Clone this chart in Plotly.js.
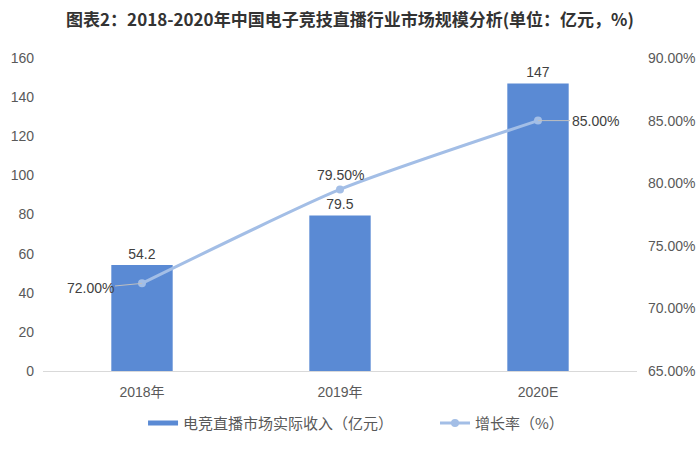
<!DOCTYPE html>
<html>
<head>
<meta charset="utf-8">
<script src="https://cdn.plot.ly/plotly-3.0.1.min.js"></script>
<style>html,body{margin:0;padding:0;background:#fff;}#chart{width:700px;height:452px;}</style>
</head>
<body>
<div id="chart"></div>
<script>
const categories = ["2018年", "2019年", "2020E"];
const revenue = [54.2, 79.5, 147];
const growth = [72.0, 79.5, 85.0];
const barName = "电竞直播市场实际收入（亿元）";
const lineName = "增长率（%）";
const titleText = "图表2：2018-2020年中国电子竞技直播行业市场规模分析(单位：亿元，%)";

const font = "Liberation Sans, Noto Sans CJK SC, sans-serif";
const gray = "#595959";
const barColor = "#5A8AD4";

const barTrace = {
  type: "bar", x: categories, y: revenue, name: barName, showlegend: false,
  marker: {color: barColor}, width: 0.31,
  text: revenue.map(v => String(v)), textposition: "outside",
  textfont: {size: 14, color: "#404040", family: font},
  cliponaxis: false
};
const barLegend = {
  type: "scatter", mode: "lines", x: [null], y: [null],
  name: barName + "\u00a0".repeat(11),
  line: {color: barColor, width: 5}, hoverinfo: "skip"
};
const lineTrace = {
  type: "scatter", mode: "lines+markers", x: categories, y: growth, name: lineName,
  yaxis: "y2", line: {color: "#A3BEE6", width: 3, shape: "spline", smoothing: 0.6},
  marker: {color: "#A3BEE6", size: 8}
};

const offsets = [[-52, 5], [0, -16], [57, 0]];
const annotations = growth.map((g, i) => ({
  x: categories[i], y: g, xref: "x", yref: "y2",
  text: g.toFixed(2) + "%", showarrow: i !== 1, arrowhead: 0, arrowwidth: 1,
  arrowcolor: "#BFBFBF", ax: offsets[i][0], ay: offsets[i][1],
  yshift: i === 1 ? 14 : 0,
  font: {size: 14, color: "#404040", family: font}
}));

const layout = {
  width: 700, height: 452,
  margin: {l: 43, r: 63, t: 58, b: 77},
  paper_bgcolor: "#fff", plot_bgcolor: "#fff",
  title: {text: "<b>" + titleText + "</b>", x: 0.5, xanchor: "center", y: 0.955, yanchor: "middle",
    font: {size: 17, color: "#333", family: "Noto Sans CJK SC, sans-serif"}},
  xaxis: {type: "category", showgrid: false, showline: true, linecolor: "#D9D9D9", linewidth: 1,
    ticks: "", tickfont: {size: 14, color: gray, family: font}, zeroline: false, ticklabelstandoff: 8},
  yaxis: {range: [0, 160], dtick: 20, showgrid: false, zeroline: false, showline: false,
    ticks: "", tickfont: {size: 14, color: gray, family: font}, ticklabelstandoff: 8},
  yaxis2: {range: [65, 90], dtick: 5, overlaying: "y", side: "right", showgrid: false,
    zeroline: false, showline: false, ticks: "", tickformat: ".2f", ticksuffix: "%",
    tickfont: {size: 14, color: gray, family: font}, ticklabelstandoff: 10},
  showlegend: true,
  legend: {orientation: "h", x: 0.527, xanchor: "center", y: -0.167, yanchor: "middle",
    font: {size: 15, color: gray, family: "Noto Sans CJK SC, sans-serif"}, traceorder: "normal"},
  annotations: annotations
};

Plotly.newPlot("chart", [barTrace, barLegend, lineTrace], layout, {displayModeBar: false, staticPlot: true});
</script>
</body>
</html>
